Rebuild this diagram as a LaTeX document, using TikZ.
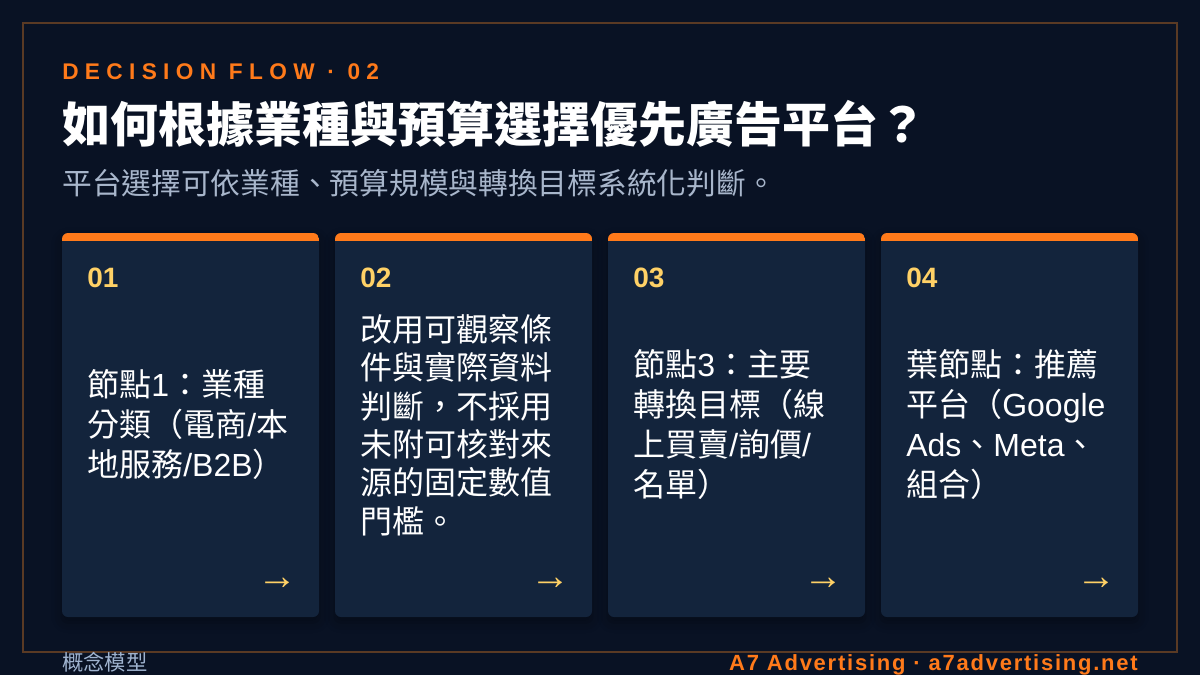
\documentclass[tikz,border=0pt]{standalone}
\usepackage{fontspec}
\setmainfont{Liberation Sans}
\newfontfamily\cjk{Noto Sans CJK TC}
\newfontfamily\spacedA[LetterSpace=28]{Liberation Sans}
\newfontfamily\spacedB[LetterSpace=8]{Liberation Sans}
\usetikzlibrary{shadows.blur}
\definecolor{bgcol}{HTML}{091224}
\definecolor{cardcol}{HTML}{13243C}
\definecolor{accent}{HTML}{FF7A1A}
\definecolor{numcol}{HTML}{FFD166}
\definecolor{framecol}{HTML}{5A3A24}
\definecolor{subcol}{HTML}{A8B6CB}
\definecolor{footcol}{HTML}{9FB3CF}
\newcommand\la[1]{{\rmfamily #1}}
\tikzset{
  cardbox/.style={fill=cardcol, rounded corners=4.5pt, minimum width=192.75pt, minimum height=288pt, inner sep=0pt,
    blur shadow={shadow xshift=0pt, shadow yshift=-4pt, shadow blur radius=8pt, shadow opacity=35}},
  numtext/.style={anchor=west, inner sep=0pt, text=numcol, font=\fontsize{21}{24}\selectfont\bfseries},
  bodytext/.style={anchor=west, inner sep=0pt, text=white, align=left, font=\fontsize{24}{30}\selectfont\cjk},
  arrowtext/.style={anchor=east, inner sep=0pt, text=numcol, font=\fontsize{30}{32}\selectfont\rmfamily},
}
\begin{document}
\begin{tikzpicture}[x=0.75pt,y=-0.75pt]
\useasboundingbox (0,0) rectangle (1200,675);
\fill[bgcol] (0,0) rectangle (1200,675);
\draw[framecol, line width=1.5pt] (23,23) rectangle (1177,652);

\node[anchor=west, inner sep=0pt, text=accent, font=\fontsize{17}{20}\selectfont\spacedA\bfseries] (kicker) at (62,71.7) {DECISION FLOW · 02};
\node[anchor=west, inner sep=0pt, text=white, font=\fontsize{36}{40}\selectfont\cjk\bfseries] (title) at (62,123.4) {如何根據業種與預算選擇優先廣告平台？};
\node[anchor=west, inner sep=0pt, text=subcol, font=\fontsize{22.3}{26}\selectfont\cjk] (subtitle) at (62,183.5) {平台選擇可依業種、預算規模與轉換目標系統化判斷。};

\foreach \i/\x in {1/62,2/335,3/608,4/881}{
  \node[cardbox] (card\i) at (\x+128.5,425) {};
  \begin{scope}
    \clip[rounded corners=4.5pt] (\x,233) rectangle (\x+257,617);
    \fill[accent] (\x,233) rectangle (\x+257,240.7);
  \end{scope}
  \node[numtext] (num\i) at (\x+25,277.7) {0\i};
  \node[arrowtext] (arrow\i) at (\x+236,583.5) {→};
}

\node[bodytext] (body1) at (87,425) {節點\la{1}：業種\\分類（電商\la{/}本\\地服務\la{/B2B}）};
\node[bodytext, font=\fontsize{24}{28.8}\selectfont\cjk] (body2) at (360,425) {改用可觀察條\\件與實際資料\\判斷，不採用\\未附可核對來\\源的固定數值\\門檻。};
\node[bodytext] (body3) at (633,425) {節點\la{3}：主要\\轉換目標（線\\上買賣\la{/}詢價\la{/}\\名單）};
\node[bodytext] (body4) at (906,425) {葉節點：推薦\\平台（\la{Google}\\\la{Ads}、\la{Meta}、\\組合）};

\node[anchor=west, inner sep=0pt, text=footcol, font=\fontsize{16}{18}\selectfont\cjk] (footl) at (62,662) {概念模型};
\node[anchor=base east, inner sep=0pt, text=accent, font=\fontsize{16.5}{18}\selectfont\spacedB\bfseries] (footr) at (1138,670) {A7 Advertising · a7advertising.net};
\end{tikzpicture}
\end{document}
